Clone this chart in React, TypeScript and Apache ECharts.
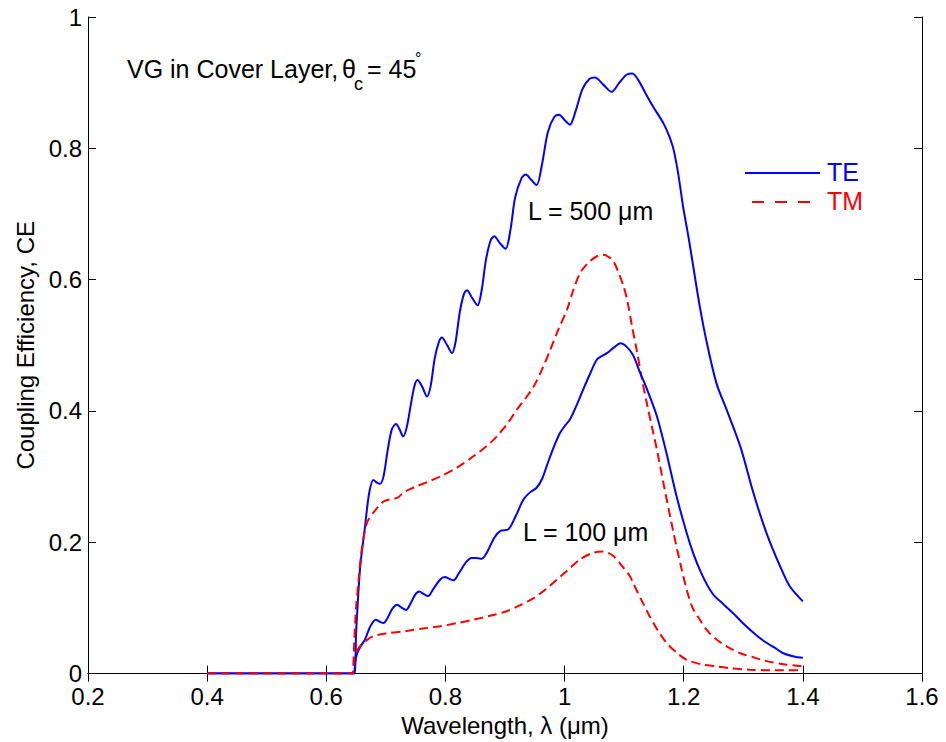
import React, { useEffect, useRef } from "react";
import * as echarts from "echarts";

// Wavelength (µm) / coupling efficiency samples
const te500X = [0.40, 0.60, 0.646, 0.647, 0.648, 0.650, 0.653, 0.657, 0.665, 0.672, 0.679, 0.685, 0.690, 0.696, 0.703, 0.710, 0.717, 0.723, 0.729, 0.735, 0.742, 0.748, 0.753, 0.761, 0.769, 0.775, 0.782, 0.789, 0.794, 0.803, 0.811, 0.817, 0.824, 0.831, 0.836, 0.845, 0.854, 0.861, 0.868, 0.876, 0.882, 0.891, 0.901, 0.909, 0.917, 0.928, 0.935, 0.944, 0.953, 0.962, 0.972, 0.983, 0.991, 1.000, 1.009, 1.018, 1.030, 1.042, 1.051, 1.065, 1.079, 1.092, 1.104, 1.114, 1.125, 1.137, 1.149, 1.166, 1.175, 1.183, 1.191, 1.199, 1.208, 1.216, 1.227, 1.239, 1.255, 1.272, 1.295, 1.317, 1.339, 1.362, 1.378, 1.400];
const te500Y = [0, 0, 0, 0, 0, 0.06, 0.11, 0.163, 0.224, 0.275, 0.295, 0.291, 0.289, 0.300, 0.340, 0.372, 0.380, 0.372, 0.361, 0.375, 0.410, 0.438, 0.447, 0.437, 0.422, 0.437, 0.480, 0.505, 0.512, 0.500, 0.488, 0.505, 0.550, 0.578, 0.584, 0.572, 0.561, 0.585, 0.630, 0.660, 0.666, 0.656, 0.647, 0.675, 0.725, 0.755, 0.760, 0.752, 0.744, 0.775, 0.825, 0.848, 0.851, 0.843, 0.836, 0.855, 0.890, 0.906, 0.908, 0.897, 0.886, 0.900, 0.912, 0.914, 0.902, 0.882, 0.863, 0.838, 0.820, 0.798, 0.760, 0.711, 0.665, 0.620, 0.559, 0.503, 0.442, 0.402, 0.346, 0.275, 0.214, 0.163, 0.133, 0.110];

const tm500X = [0.40, 0.60, 0.645, 0.646, 0.647, 0.650, 0.654, 0.659, 0.668, 0.679, 0.696, 0.710, 0.720, 0.730, 0.746, 0.770, 0.791, 0.820, 0.847, 0.870, 0.886, 0.905, 0.920, 0.935, 0.948, 0.962, 0.976, 0.990, 1.004, 1.015, 1.026, 1.038, 1.048, 1.058, 1.065, 1.075, 1.082, 1.090, 1.099, 1.106, 1.113, 1.121, 1.130, 1.138, 1.149, 1.155, 1.166, 1.183, 1.195, 1.205, 1.215, 1.227, 1.240, 1.255, 1.275, 1.295, 1.320, 1.339, 1.370, 1.400];
const tm500Y = [0, 0, 0, 0, 0.05, 0.10, 0.14, 0.185, 0.229, 0.245, 0.262, 0.266, 0.268, 0.276, 0.283, 0.292, 0.300, 0.314, 0.331, 0.347, 0.361, 0.382, 0.402, 0.420, 0.437, 0.463, 0.493, 0.525, 0.554, 0.585, 0.610, 0.624, 0.632, 0.637, 0.638, 0.634, 0.628, 0.612, 0.590, 0.565, 0.530, 0.493, 0.448, 0.412, 0.366, 0.341, 0.290, 0.214, 0.165, 0.128, 0.100, 0.082, 0.065, 0.052, 0.040, 0.031, 0.024, 0.019, 0.014, 0.011];

const te100X = [0.40, 0.60, 0.647, 0.648, 0.649, 0.652, 0.658, 0.665, 0.674, 0.683, 0.690, 0.696, 0.703, 0.711, 0.719, 0.727, 0.734, 0.741, 0.749, 0.756, 0.764, 0.771, 0.779, 0.791, 0.799, 0.807, 0.814, 0.822, 0.835, 0.844, 0.852, 0.861, 0.870, 0.882, 0.892, 0.906, 0.918, 0.931, 0.942, 0.953, 0.962, 0.970, 0.981, 0.992, 1.001, 1.009, 1.020, 1.031, 1.043, 1.054, 1.063, 1.071, 1.082, 1.094, 1.104, 1.115, 1.126, 1.138, 1.155, 1.171, 1.188, 1.205, 1.216, 1.227, 1.240, 1.250, 1.265, 1.283, 1.297, 1.311, 1.325, 1.339, 1.355, 1.367, 1.385, 1.400];
const te100Y = [0, 0, 0, 0, 0.02, 0.031, 0.042, 0.052, 0.072, 0.082, 0.079, 0.077, 0.085, 0.099, 0.105, 0.100, 0.097, 0.106, 0.120, 0.125, 0.121, 0.118, 0.128, 0.143, 0.147, 0.144, 0.142, 0.152, 0.170, 0.176, 0.176, 0.175, 0.185, 0.207, 0.217, 0.220, 0.240, 0.265, 0.276, 0.283, 0.296, 0.316, 0.343, 0.366, 0.378, 0.387, 0.408, 0.432, 0.457, 0.478, 0.484, 0.488, 0.496, 0.503, 0.498, 0.485, 0.460, 0.434, 0.392, 0.336, 0.270, 0.214, 0.183, 0.158, 0.134, 0.120, 0.107, 0.092, 0.079, 0.067, 0.056, 0.047, 0.038, 0.031, 0.026, 0.024];

const tm100X = [0.40, 0.60, 0.645, 0.646, 0.647, 0.650, 0.657, 0.668, 0.679, 0.700, 0.735, 0.765, 0.791, 0.820, 0.847, 0.875, 0.903, 0.925, 0.948, 0.968, 0.987, 1.006, 1.026, 1.045, 1.062, 1.073, 1.082, 1.093, 1.100, 1.110, 1.115, 1.129, 1.143, 1.157, 1.171, 1.188, 1.205, 1.230, 1.255, 1.280, 1.311, 1.350, 1.400];
const tm100Y = [0, 0, 0, 0, 0.025, 0.032, 0.042, 0.051, 0.057, 0.061, 0.065, 0.069, 0.072, 0.077, 0.082, 0.088, 0.095, 0.104, 0.115, 0.128, 0.143, 0.158, 0.174, 0.183, 0.186, 0.184, 0.179, 0.168, 0.160, 0.148, 0.138, 0.112, 0.087, 0.065, 0.047, 0.032, 0.021, 0.014, 0.011, 0.008, 0.006, 0.005, 0.005];

const xTicks = { min: 0.2, max: 1.6, interval: 0.2 };
const yTicks = { min: 0, max: 1, interval: 0.2 };

const legendNames = ["TE", "TM"];

const FONT = "'Liberation Sans', Arial, Helvetica, sans-serif";
const FS = 24;
const AFS = 25;

const pairs = (xs: number[], ys: number[]) => xs.map((x, i) => [x, ys[i]]);

export default function App() {
  const ref = useRef<HTMLDivElement>(null);
  useEffect(() => {
    if (!ref.current) return;
    const chart = echarts.init(ref.current, null, { renderer: "svg" });
    const axisCommon = {
      type: "value" as const,
      axisLine: { show: true, lineStyle: { color: "#000", width: 1 } },
      axisTick: { show: true, inside: true, length: 8, lineStyle: { color: "#000" } },
      splitLine: { show: false },
    };
    const blue = "#0000ff";
    const red = "#ff0000";
    const dash = [9, 5];
    const lineSeries = (name: string, data: number[][], color: string, dashed: boolean) => ({
      type: "line",
      name,
      data,
      xAxisIndex: 0,
      yAxisIndex: 0,
      showSymbol: false,
      symbol: "none",
      smooth: 0.3,
      lineStyle: { color, width: 2, type: dashed ? dash : "solid" },
      itemStyle: { color },
    });
    chart.setOption({
      animation: false,
      backgroundColor: "#fff",
      grid: { left: 88, right: 24, top: 17, bottom: 68, containLabel: false },
      xAxis: [
        {
          ...axisCommon,
          position: "bottom",
          ...xTicks,
          axisLabel: { color: "#000", fontSize: FS, fontFamily: FONT, margin: 14, lineHeight: 17 },
          name: "Wavelength, λ (μm)",
          nameLocation: "middle",
          nameGap: 31,
          nameTextStyle: { color: "#000", fontSize: FS, fontFamily: FONT, verticalAlign: "top" },
        },
        { ...axisCommon, position: "top", ...xTicks, axisLabel: { show: false } },
      ],
      yAxis: [
        {
          ...axisCommon,
          position: "left",
          ...yTicks,
          axisLabel: { color: "#000", fontSize: FS, fontFamily: FONT, margin: 6, lineHeight: 17 },
          name: "Coupling Efficiency, CE",
          nameLocation: "middle",
          nameGap: 48,
          nameTextStyle: { color: "#000", fontSize: FS, fontFamily: FONT },
        },
        { ...axisCommon, position: "right", ...yTicks, axisLabel: { show: false } },
      ],
      series: [
        lineSeries("TE", pairs(te500X, te500Y), blue, false),
        lineSeries("TM", pairs(tm500X, tm500Y), red, true),
        lineSeries("TE", pairs(te100X, te100Y), blue, false),
        lineSeries("TM", pairs(tm100X, tm100Y), red, true),
      ],
      graphic: [
        { type: "text", left: 127, top: 56, style: { text: "VG in Cover Layer,", fill: "#000", font: `${AFS}px ${FONT}` } },
        { type: "text", left: 342, top: 56, style: { text: "θ", fill: "#000", font: `${AFS}px ${FONT}` } },
        { type: "text", left: 354, top: 75, style: { text: "c", fill: "#000", font: `18px ${FONT}` } },
        { type: "text", left: 367, top: 56, style: { text: "= 45", fill: "#000", font: `${AFS}px ${FONT}` } },
        { type: "text", left: 415, top: 50, style: { text: "°", fill: "#000", font: `16px ${FONT}` } },
        { type: "text", left: 528, top: 198, style: { text: "L = 500 μm", fill: "#000", font: `${AFS}px ${FONT}` } },
        { type: "text", left: 523, top: 519, style: { text: "L = 100 μm", fill: "#000", font: `${AFS}px ${FONT}` } },
        // legend
        { type: "line", shape: { x1: 745, y1: 173, x2: 820, y2: 173 }, style: { stroke: blue, lineWidth: 2 } },
        { type: "text", left: 827, top: 159, style: { text: legendNames[0], fill: blue, font: `${AFS}px ${FONT}` } },
        { type: "line", shape: { x1: 752, y1: 202, x2: 810, y2: 202 }, style: { stroke: red, lineWidth: 2, lineDash: [12, 11] } },
        { type: "text", left: 827, top: 188, style: { text: legendNames[1], fill: red, font: `${AFS}px ${FONT}` } },
      ],
    });
    return () => chart.dispose();
  }, []);
  return <div ref={ref} style={{ width: 946, height: 742, position: "absolute", left: 0, top: 0 }} />;
}
